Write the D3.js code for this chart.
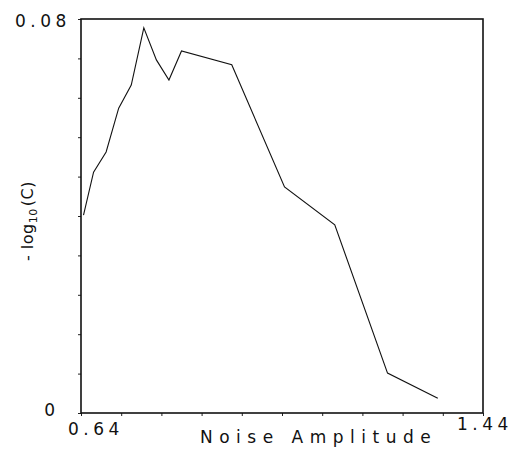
<!DOCTYPE html>
<html>
<head>
<meta charset="utf-8">
<script src="https://cdn.jsdelivr.net/npm/d3@7"></script>
<style>
  html, body { margin: 0; padding: 0; background: #fff; }
  svg { display: block; }
  text { font-family: "DejaVu Sans", sans-serif; fill: #111; }
</style>
</head>
<body>
<figure id="chart" style="margin:0"></figure>
<script>
// noise amplitude (x) and -log10(C) (y)
const noiseAmp = [0.645, 0.665, 0.69, 0.715, 0.74, 0.765, 0.79, 0.815, 0.84, 0.94, 1.045, 1.145, 1.25, 1.35];
const negLogC = [0.0402, 0.0489, 0.0530, 0.0619, 0.0666, 0.0782, 0.0717, 0.0676, 0.0735, 0.0707, 0.0459, 0.0382, 0.0081, 0.0030];

const xDomain = [0.64, 1.44];
const yDomain = [0, 0.08];
const xTicks = d3.range(0, 11).map(i => 0.64 + i * 0.08);
const yTicks = d3.range(0, 11).map(i => i * 0.008);
const xLabels = ["0.64", "1.44"];
const yLabels = ["0", "0.08"];

const W = 530, H = 454;
const mLeft = 81, mRight = 483, mTop = 19, mBottom = 413;

const svg = d3.select("#chart")
  .append("svg")
  .attr("width", W)
  .attr("height", H);

const x = d3.scaleLinear().domain(xDomain).range([mLeft, mRight]);
const y = d3.scaleLinear().domain(yDomain).range([mBottom, mTop]);

// small ticks along the bottom and left edges
svg.append("g")
  .attr("transform", "translate(0," + mBottom + ")")
  .call(d3.axisBottom(x).tickValues(xTicks).tickSize(3).tickFormat(""))
  .call(g => g.select(".domain").remove())
  .selectAll("line").attr("stroke", "#222");

svg.append("g")
  .attr("transform", "translate(" + mLeft + ",0)")
  .call(d3.axisLeft(y).tickValues(yTicks).tickSize(3).tickFormat(""))
  .call(g => g.select(".domain").remove())
  .selectAll("line").attr("stroke", "#222");

// frame
svg.append("rect")
  .attr("x", mLeft)
  .attr("y", mTop)
  .attr("width", mRight - mLeft)
  .attr("height", mBottom - mTop)
  .attr("fill", "none")
  .attr("stroke", "#111")
  .attr("stroke-width", 1.6);

// the curve
const line = d3.line()
  .x((d, i) => x(noiseAmp[i]))
  .y(d => y(d));

svg.append("path")
  .datum(negLogC)
  .attr("d", line)
  .attr("fill", "none")
  .attr("stroke", "#111")
  .attr("stroke-width", 1.1);

// end labels on the axes
svg.append("text")
  .attr("x", x(xDomain[0]) - 13)
  .attr("y", mBottom + 22)
  .attr("font-size", 17)
  .attr("letter-spacing", 4.5)
  .text(xLabels[0]);

svg.append("text")
  .attr("x", x(xDomain[1]) - 26)
  .attr("y", mBottom + 17)
  .attr("font-size", 17)
  .attr("letter-spacing", 4.5)
  .text(xLabels[1]);

svg.append("text")
  .attr("x", mLeft - 26)
  .attr("y", y(yDomain[0]) + 3)
  .attr("text-anchor", "end")
  .attr("font-size", 17)
  .text(yLabels[0]);

svg.append("text")
  .attr("x", 15)
  .attr("y", y(yDomain[1]) + 8)
  .attr("font-size", 17)
  .attr("letter-spacing", 4.5)
  .text(yLabels[1]);

// axis titles
svg.append("text")
  .attr("x", 200)
  .attr("y", 443)
  .attr("font-size", 17)
  .attr("letter-spacing", 6.5)
  .text("Noise Amplitude");

const yt = svg.append("text")
  .attr("transform", "translate(33,261) rotate(-90)")
  .attr("font-size", 16)
  .attr("letter-spacing", 0.5);
yt.append("tspan").text("- log");
yt.append("tspan").attr("font-size", 11).attr("dy", 4).text("10");
yt.append("tspan").attr("dy", -4).attr("dx", 2).text("(C)");
</script>
</body>
</html>
